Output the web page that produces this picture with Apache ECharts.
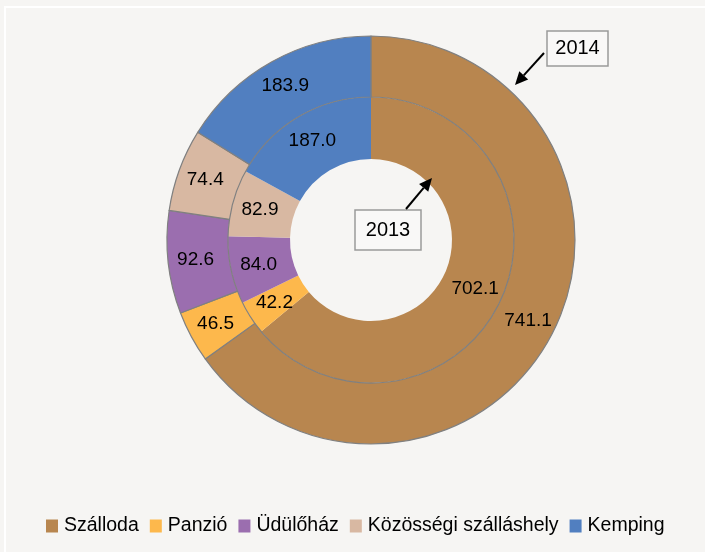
<!DOCTYPE html>
<html><head><meta charset="utf-8">
<script src="https://cdn.jsdelivr.net/npm/echarts@6/dist/echarts.min.js"></script>
<style>html,body{margin:0;padding:0;background:#f6f5f3;}#c{width:705px;height:552px;}</style>
</head><body><div id="c"></div>
<script>
const categories = ['Szálloda', 'Panzió', 'Üdülőház', 'Közösségi szálláshely', 'Kemping'];
const values2014 = [741.1, 46.5, 92.6, 74.4, 183.9];
const values2013 = [702.1, 42.2, 84.0, 82.9, 187.0];
const colors = ['#b8864f', '#fdb84c', '#9b6eaf', '#d8b8a2', '#517fc0'];
const FONT = '"Liberation Sans Narrow", "Arial Narrow", "Liberation Sans", Arial, sans-serif';

function arrow(x1, y1, x2, y2) {
  const dx = x2 - x1, dy = y2 - y1, L = Math.hypot(dx, dy);
  const ux = dx / L, uy = dy / L, hl = 13, hw = 6;
  const bx = x2 - ux * hl, by = y2 - uy * hl;
  return [
    { type: 'line', z: 10, shape: { x1: x1, y1: y1, x2: bx, y2: by }, style: { stroke: '#000', lineWidth: 2 } },
    { type: 'polygon', z: 10, shape: { points: [[x2, y2], [bx - uy * hw, by + ux * hw], [bx + uy * hw, by - ux * hw]] }, style: { fill: '#000' } }
  ];
}
function box(x, y, w, h, t) {
  return [
    { type: 'rect', z: 10, shape: { x: x, y: y, width: w, height: h }, style: { fill: '#f9f8f7', stroke: '#9a9a9a', lineWidth: 1.5 } },
    { type: 'text', z: 11, x: x + w / 2, y: y + h / 2, style: { text: t, font: '20px ' + FONT, fill: '#000', align: 'center', verticalAlign: 'middle' } }
  ];
}

const mk = (vals) => categories.map((n, i) => ({ name: n, value: vals[i], itemStyle: { color: colors[i] } }));
const chart = echarts.init(document.getElementById('c'));
chart.setOption({
  backgroundColor: '#f6f5f3',
  animation: false,
  color: colors,
  legend: {
    top: 511, left: 41, width: 664, itemWidth: 12, itemHeight: 13, itemGap: 11,
    icon: 'rect',
    itemStyle: { borderWidth: 0 },
    textStyle: { fontFamily: FONT, fontSize: 19.5, color: '#000', padding: [0, 0, 0, 1] },
    data: categories
  },
  series: [
    {
      type: 'pie', name: '2014', z: 3, center: [371, 240], radius: [143, 204], startAngle: 90, clockwise: true,
      label: { show: true, position: 'inside', formatter: p => p.value.toFixed(1), fontFamily: FONT, fontSize: 19, color: '#000' },
      labelLine: { show: false },
      itemStyle: { borderColor: '#808080', borderWidth: 1.2 },
      emphasis: { disabled: true },
      data: mk(values2014)
    },
    {
      type: 'pie', name: '2013', z: 2, center: [371, 240], radius: [81, 143], startAngle: 90, clockwise: true,
      label: { show: true, position: 'inside', formatter: p => p.value.toFixed(1), fontFamily: FONT, fontSize: 19, color: '#000' },
      labelLine: { show: false },
      itemStyle: { borderWidth: 0 },
      emphasis: { disabled: true },
      data: mk(values2013)
    }
  ],
  graphic: [
    { type: 'rect', shape: { x: 5, y: 6, width: 700, height: 2 }, style: { fill: '#ffffff' } },
    { type: 'rect', shape: { x: 4, y: 6, width: 2, height: 546 }, style: { fill: '#ffffff' } },
    ...box(547, 31, 61, 35, '2014'),
    ...arrow(544, 53, 515, 85),
    ...box(355, 210, 66, 40, '2013'),
    ...arrow(406, 209, 432, 178)
  ]
});
</script></body></html>
